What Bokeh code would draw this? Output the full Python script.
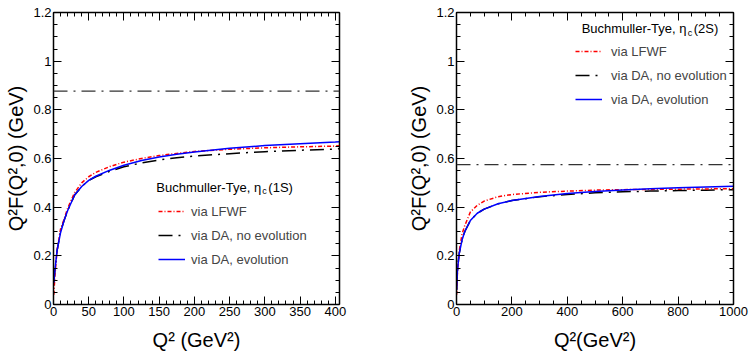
from bokeh.plotting import figure
from bokeh.models import (Range1d, SingleIntervalTicker, FixedTicker, LinearAxis, NumeralTickFormatter,
                          Legend, LegendItem, Label, Span, CustomLabelingPolicy)
from bokeh.layouts import row
from bokeh.embed import file_html
from bokeh.resources import INLINE

FONT = "Liberation Sans"

# ---------------- data: eta_c(1S) ----------------
q2_1s = [0.5, 2, 5, 10, 15, 20, 30, 40, 50, 60, 80, 100, 125, 150, 175, 200, 250, 300, 350, 400, 406]
lfwf_1s = [0.04, 0.12, 0.22, 0.31, 0.35, 0.395, 0.46, 0.50, 0.525, 0.543, 0.567, 0.585, 0.600,
           0.612, 0.621, 0.629, 0.638, 0.644, 0.648, 0.651, 0.652]
da_noevo_1s = [0.09, 0.14, 0.22, 0.30, 0.345, 0.385, 0.45, 0.485, 0.51, 0.525, 0.548, 0.566, 0.582,
               0.594, 0.603, 0.610, 0.620, 0.628, 0.634, 0.639, 0.640]
da_evo_1s = [0.09, 0.14, 0.22, 0.295, 0.345, 0.385, 0.45, 0.485, 0.51, 0.527, 0.552, 0.572, 0.592,
             0.606, 0.617, 0.627, 0.642, 0.653, 0.661, 0.668, 0.669]
asym_1s = 0.877

# ---------------- data: eta_c(2S) ----------------
q2_2s = [0.5, 3, 6, 10, 20, 30, 50, 75, 100, 150, 200, 300, 400, 500, 600, 700, 800, 900, 1000]
lfwf_2s = [0.04, 0.12, 0.17, 0.22, 0.29, 0.325, 0.38, 0.408, 0.425, 0.443, 0.452, 0.461, 0.466,
           0.470, 0.472, 0.473, 0.474, 0.475, 0.476]
da_noevo_2s = [0.06, 0.13, 0.17, 0.21, 0.265, 0.30, 0.345, 0.375, 0.392, 0.414, 0.427, 0.443,
               0.452, 0.459, 0.463, 0.466, 0.468, 0.470, 0.472]
da_evo_2s = [0.06, 0.13, 0.17, 0.21, 0.265, 0.30, 0.345, 0.375, 0.392, 0.414, 0.427, 0.444,
             0.456, 0.464, 0.471, 0.476, 0.480, 0.483, 0.486]
asym_2s = 0.575

# ---------------- axes / labels ----------------
y_ticks = [0, 0.2, 0.4, 0.6, 0.8, 1.0, 1.2]
y_minor_step = 0.05
x_max_1s = 406
x_max_2s = 1000
x_major_step_1s = 50
x_major_step_2s = 200
series_labels = ["via LFWF", "via DA, no evolution", "via DA, evolution"]
y_title = "Q²F(Q²,0) (GeV)"
x_title_1s = "Q² (GeV²)"
x_title_2s = "Q²(GeV²)"
state_1s = "(1S)"
state_2s = "(2S)"

HIDE_LABELS = "for (const i of indices) { indices.unset(i) } return indices"


def style_axis(ax, show):
    ax.axis_line_width = 1.5
    ax.axis_line_color = "black"
    ax.major_tick_in = 8
    ax.major_tick_out = 0
    ax.minor_tick_in = 4
    ax.minor_tick_out = 0
    ax.major_tick_line_color = "black"
    ax.minor_tick_line_color = "black"
    ax.major_label_text_font = FONT
    ax.major_label_text_color = "black"
    ax.major_label_text_font_size = "13px"
    ax.major_label_standoff = 2
    ax.axis_label_text_font = FONT
    ax.axis_label_text_font_size = "20px"
    ax.axis_label_text_font_style = "normal"
    ax.axis_label_text_color = "black"
    if not show:
        ax.major_label_policy = CustomLabelingPolicy(code=HIDE_LABELS)
        ax.major_label_standoff = 0


def panel(q2, lfwf, noevo, evo, asym, xmax, xstep, xminor, xtitle, state,
          width, border_right, leg_loc, leg_standoff, title_xy):
    y_max = y_ticks[-1]
    p = figure(width=width, height=360, x_range=Range1d(0, xmax), y_range=Range1d(0, y_max),
               output_backend="svg", toolbar_location=None,
               min_border_left=53, min_border_right=border_right,
               min_border_top=12, min_border_bottom=56)
    p.grid.visible = False
    p.outline_line_color = None
    p.background_fill_color = "white"
    p.border_fill_color = "white"

    xt = SingleIntervalTicker(interval=xstep, num_minor_ticks=xminor)
    n_minor = int(round(y_max / y_minor_step))
    yt = FixedTicker(ticks=y_ticks,
                     minor_ticks=[round(i * y_minor_step, 3) for i in range(n_minor + 1)])
    fmt = NumeralTickFormatter(format="0.[0]")

    xa = p.xaxis[0]
    xa.ticker = xt
    xa.formatter = fmt
    xa.axis_label = xtitle
    style_axis(xa, True)
    xa.axis_label_standoff = 10

    ya = p.yaxis[0]
    ya.ticker = yt
    ya.formatter = fmt
    ya.axis_label = y_title
    style_axis(ya, True)
    ya.axis_label_standoff = 3

    top = LinearAxis(ticker=xt, formatter=fmt)
    style_axis(top, False)
    p.add_layout(top, "above")
    right = LinearAxis(ticker=yt, formatter=fmt)
    style_axis(right, False)
    p.add_layout(right, "right")

    p.add_layout(Span(location=asym, dimension="width", line_color="#333333",
                      line_width=1.2, line_dash="14 6 2 6"))

    r_noevo = p.line(q2, noevo, line_color="black", line_width=1.5, line_dash="14 6 2 6")
    r_lfwf = p.line(q2, lfwf, line_color="red", line_width=1.5, line_dash="4 2 1 2")
    r_evo = p.line(q2, evo, line_color="blue", line_width=1.5)

    legend = Legend(items=[LegendItem(label=series_labels[0], renderers=[r_lfwf]),
                           LegendItem(label=series_labels[1], renderers=[r_noevo]),
                           LegendItem(label=series_labels[2], renderers=[r_evo])],
                    location=leg_loc)
    legend.glyph_width = 27
    legend.glyph_height = 16
    legend.label_height = 16
    legend.spacing = 8
    legend.padding = 0
    legend.margin = 0
    legend.label_standoff = leg_standoff
    legend.border_line_alpha = 0
    legend.background_fill_alpha = 0
    legend.label_text_font = FONT
    legend.label_text_font_size = "13px"
    p.add_layout(legend)

    tx, ty = title_xy
    common = dict(x=tx, y=ty, text_font=FONT, text_baseline="middle", text_color="black")
    p.add_layout(Label(text="Buchmuller-Tye, η", text_font_size="13px", **common))
    p.add_layout(Label(text="c", text_font_size="9px", x_offset=106, y_offset=-4, **common))
    p.add_layout(Label(text=state, text_font_size="13px", x_offset=112, **common))
    return p


p1 = panel(q2_1s, lfwf_1s, da_noevo_1s, da_evo_1s, asym_1s, x_max_1s, x_major_step_1s, 5,
           x_title_1s, state_1s, 403, 64, (105, 37), 6, (146, 0.481))
p2 = panel(q2_2s, lfwf_2s, da_noevo_2s, da_evo_2s, asym_2s, x_max_2s, x_major_step_2s, 4,
           x_title_2s, state_2s, 351, 14, (119, 197), 9, (452, 1.134))

layout = row(p1, p2)
open("out.html", "w").write(file_html(layout, INLINE))
